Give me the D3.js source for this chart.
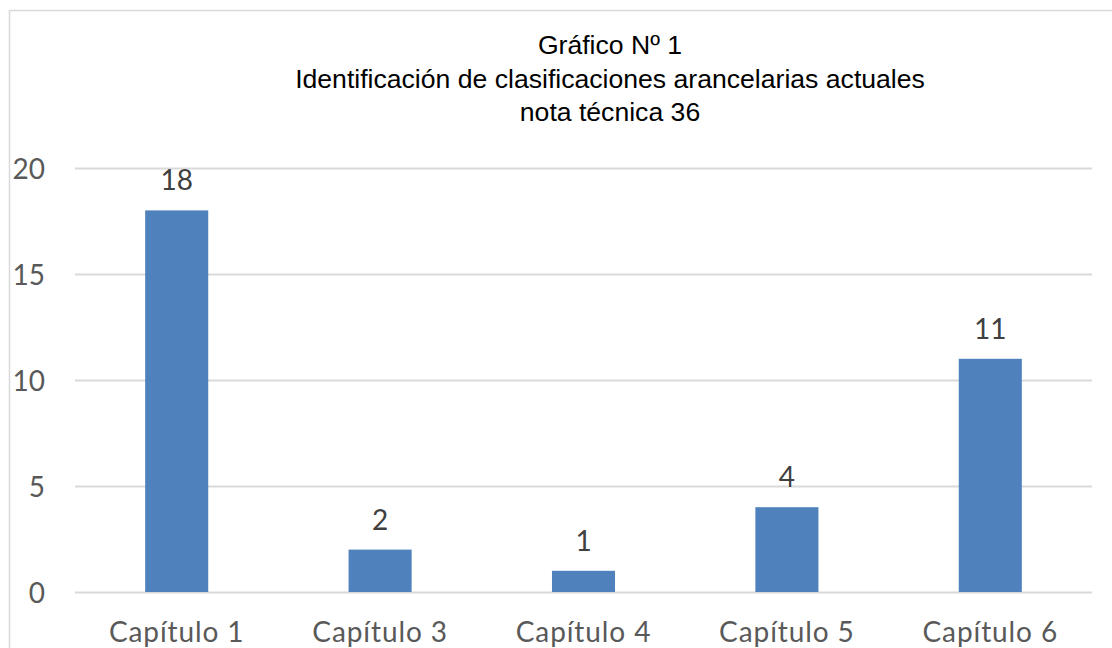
<!DOCTYPE html>
<html><head><meta charset="utf-8">
<script src="https://cdn.jsdelivr.net/npm/d3@7"></script>
<style>body{margin:0;background:#fff;}svg{display:block;}</style>
</head><body>
<script>
const categories = ["Capítulo 1", "Capítulo 3", "Capítulo 4", "Capítulo 5", "Capítulo 6"];
const values = [18, 2, 1, 4, 11];
const yTicks = [0, 5, 10, 15, 20];
const titleLines = ["Gráfico Nº 1", "Identificación de clasificaciones arancelarias actuales", "nota técnica 36"];

const W = 1112, H = 648;
const svg = d3.select("body").append("svg").attr("width", W).attr("height", H);

// chart border
svg.append("path").attr("d", `M9.5,${H+5} V10.5 H${W+5}`)
  .attr("fill", "none").attr("stroke", "#d9d9d9").attr("stroke-width", 1.5);

const x = d3.scaleBand().domain(categories).range([75, 1092]).paddingInner(0.69).paddingOuter(0.345);
const y = d3.scaleLinear().domain([0, 20]).range([592, 168]);

const tickFont = "Lato, 'Open Sans', sans-serif";

// gridlines
svg.append("g").selectAll("line").data(yTicks).join("line")
  .attr("x1", 75).attr("x2", 1092)
  .attr("y1", d => Math.round(y(d)) + 0.5).attr("y2", d => Math.round(y(d)) + 0.5)
  .attr("stroke", "#d9d9d9").attr("stroke-width", 2);

// y axis labels
const yAxis = d3.axisLeft(y).tickValues(yTicks).tickSize(0).tickPadding(0);
const yg = svg.append("g").attr("transform", "translate(45,0)").call(yAxis);
yg.select(".domain").remove();
yg.selectAll("text").attr("font-family", tickFont).attr("font-size", 28).attr("fill", "#595959").attr("dy", "0.36em");

// bars
svg.append("g").selectAll("rect").data(values).join("rect")
  .attr("x", (d, i) => x(categories[i])).attr("width", x.bandwidth())
  .attr("y", d => y(d)).attr("height", d => y(0) - y(d))
  .attr("fill", "#4f81bd");

// value labels
svg.append("g").selectAll("text").data(values).join("text")
  .attr("x", (d, i) => x(categories[i]) + x.bandwidth() / 2)
  .attr("y", d => y(d) - 20)
  .attr("text-anchor", "middle")
  .attr("font-family", tickFont).attr("font-size", 28).attr("fill", "#404040")
  .text(d => d);

// x axis labels
const xAxis = d3.axisBottom(x).tickSize(0).tickPadding(0);
const xg = svg.append("g").attr("transform", "translate(0,642)").call(xAxis);
xg.select(".domain").remove();
xg.selectAll("text").attr("font-family", tickFont).attr("font-size", 28)
  .attr("letter-spacing", "0.9px").attr("fill", "#595959").attr("dy", 0);

// title
svg.append("g").selectAll("text").data(titleLines).join("text")
  .attr("x", 610).attr("y", (d, i) => 54 + i * 33.5)
  .attr("text-anchor", "middle")
  .attr("font-family", "'Liberation Sans', Arial, sans-serif").attr("font-size", 26.6).attr("fill", "#000")
  .text(d => d);
</script>
</body></html>
